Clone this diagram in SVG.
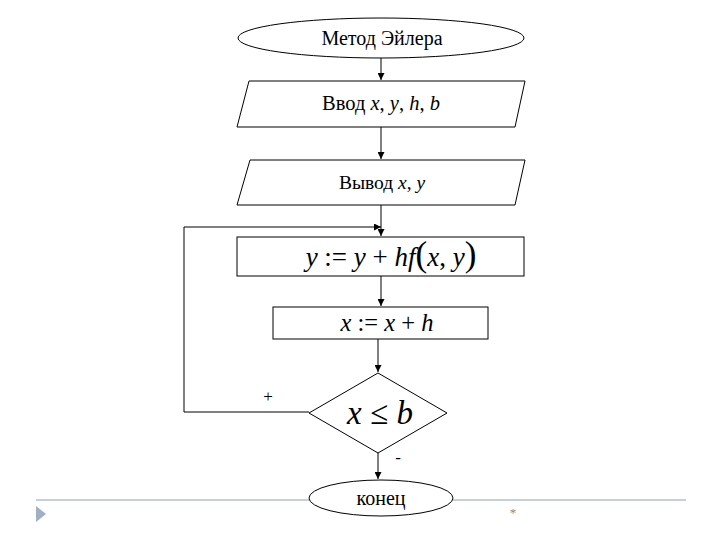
<svg xmlns="http://www.w3.org/2000/svg" width="720" height="540" viewBox="0 0 720 540">
<defs>
<marker id="ah" viewBox="0 0 10 10" refX="10" refY="5" markerWidth="7" markerHeight="7" markerUnits="userSpaceOnUse" orient="auto">
<path d="M0,0 L10,5 L0,10 z" fill="#000"/>
</marker>
<style>
.sh{fill:#fff;stroke:#000;stroke-width:1}
.ln{fill:none;stroke:#000;stroke-width:1}
.i{font-style:italic}
</style>
</defs>
<rect width="720" height="540" fill="#fff"/>
<g id="footer">
<line x1="36" y1="500" x2="686" y2="500" stroke="#b4c0cc" stroke-width="1.5"/>
<polygon points="36,506 46,514 36,522" fill="#9fb0c2"/>
<text x="513" y="517" font-family="Liberation Serif, serif" font-size="13" text-anchor="middle" fill="#888">*</text>
</g>
<g font-family="Liberation Serif, Times New Roman, serif" fill="#000">
<g id="connectors">
<line class="ln" x1="381" y1="58" x2="381" y2="80" marker-end="url(#ah)"/>
<line class="ln" x1="381" y1="127" x2="381" y2="159" marker-end="url(#ah)"/>
<line class="ln" x1="381" y1="205" x2="381" y2="236" marker-end="url(#ah)"/>
<polyline class="ln" points="309,412 184,412 184,227 381,227" marker-end="url(#ah)"/>
<line class="ln" x1="381" y1="276" x2="381" y2="306" marker-end="url(#ah)"/>
<line class="ln" x1="378" y1="339" x2="378" y2="372" marker-end="url(#ah)"/>
<line class="ln" x1="378" y1="453" x2="378" y2="479" marker-end="url(#ah)"/>
<text x="268" y="402" font-size="17" text-anchor="middle">+</text>
<text x="398" y="463" font-size="17" text-anchor="middle">-</text>
</g>
<g id="start">
<ellipse class="sh" cx="381" cy="38" rx="143" ry="20"/>
<text x="382" y="45" font-size="20" text-anchor="middle">Метод Эйлера</text>
</g>
<g id="input">
<polygon class="sh" points="249,81 525,81 515,127 237,127"/>
<text x="381" y="110" font-size="20.5" text-anchor="middle">Ввод <tspan class="i">x</tspan>, <tspan class="i">y</tspan>, <tspan class="i">h</tspan>, <tspan class="i">b</tspan></text>
</g>
<g id="output">
<polygon class="sh" points="250,160 525,160 515,205 237,205"/>
<text x="382" y="189" font-size="19.5" text-anchor="middle">Вывод <tspan class="i">x</tspan>, <tspan class="i">y</tspan></text>
</g>
<g id="calc-y">
<rect class="sh" x="237" y="237" width="287" height="39"/>
<text x="391" y="266" font-size="27" text-anchor="middle"><tspan class="i">y</tspan> := <tspan class="i">y</tspan> + <tspan class="i">hf</tspan><tspan font-size="35">(</tspan><tspan class="i">x</tspan>, <tspan class="i">y</tspan><tspan font-size="35">)</tspan></text>
</g>
<g id="calc-x">
<rect class="sh" x="273" y="307" width="215" height="32"/>
<text x="387" y="331" font-size="24.5" text-anchor="middle"><tspan class="i">x</tspan> := <tspan class="i">x</tspan> + <tspan class="i">h</tspan></text>
</g>
<g id="cond">
<polygon class="sh" points="378,373 447,413 378,453 309,413"/>
<text x="380" y="424" font-size="33" text-anchor="middle"><tspan class="i">x</tspan> ≤ <tspan class="i">b</tspan></text>
</g>
<g id="end">
<ellipse class="sh" cx="381" cy="498" rx="72" ry="18"/>
<text x="381" y="505" font-size="20" text-anchor="middle">конец</text>
</g>
</g>
</svg>
